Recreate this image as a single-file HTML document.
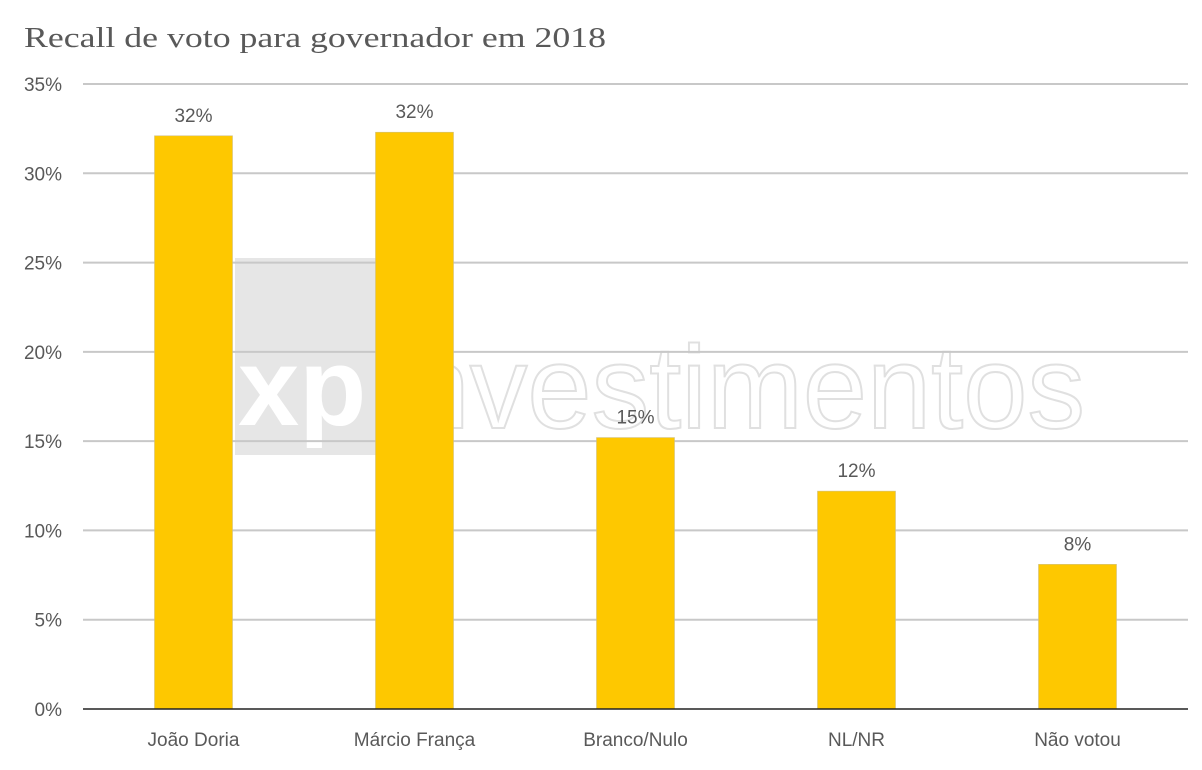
<!DOCTYPE html>
<html><head><meta charset="utf-8"><style>
body{margin:0;background:#fff;}
svg{display:block;font-family:"Liberation Sans",sans-serif;}
</style></head><body>
<svg id="chart" width="1202" height="770">
<text x="24" y="47" font-size="29" fill="#595959" font-family="Liberation Serif, serif" textLength="582" lengthAdjust="spacingAndGlyphs">Recall de voto para governador em 2018</text>
<g>
<rect x="235" y="258" width="143" height="197" fill="#e6e6e6"/>
<text x="238" y="425" font-size="110" font-weight="bold" fill="#fff">xp</text>
<text x="380" y="428" font-size="118" fill="none" stroke="#e0e0e0" stroke-width="2" textLength="705" lengthAdjust="spacingAndGlyphs">investimentos</text>
</g>
<g id="grid"></g><g id="bars"></g><g id="labels"></g>
</svg>
<script>
const categories=["João Doria","Márcio França","Branco/Nulo","NL/NR","Não votou"];
const values=[32.1,32.3,15.2,12.2,8.1];
const valueLabels=["32%","32%","15%","12%","8%"];
const ticks=[0,5,10,15,20,25,30,35];
const tickLabels=["0%","5%","10%","15%","20%","25%","30%","35%"];
const NS="http://www.w3.org/2000/svg";
const x0=83,x1=1188,y0=709,y1=84,ymax=35;
const y=v=>y0-(v/ymax)*(y0-y1);
const bw=(x1-x0)/categories.length;
const xc=i=>x0+bw*(i+0.5);
function mk(t,a,p){const e=document.createElementNS(NS,t);for(const k in a)e.setAttribute(k,a[k]);p.appendChild(e);return e;}
const grid=document.getElementById('grid'),bars=document.getElementById('bars'),labels=document.getElementById('labels');
ticks.forEach((t,i)=>{
 if(t>0){const l=mk('line',{x1:x0,x2:x1,y1:y(t),y2:y(t),stroke:'#c8c8c8','stroke-width':2},grid);
 
 }
 const tx=mk('text',{x:62,y:y(t)+7,'text-anchor':'end','font-size':19,fill:'#595959'},grid);
 tx.textContent=tickLabels[i];
 
 
});
categories.forEach((c,i)=>{
 const r=mk('rect',{x:xc(i)-39,y:y(values[i]),width:78,height:y0-y(values[i]),fill:'#fec800',stroke:'#d0c080','stroke-width':0.6},bars);
 
 
 const v=mk('text',{x:xc(i),y:y(values[i])-14,'text-anchor':'middle','font-size':19,fill:'#595959'},labels);
 v.textContent=valueLabels[i];
 
 
 const cl=mk('text',{x:xc(i),y:746,'text-anchor':'middle','font-size':19,fill:'#595959'},labels);
 cl.textContent=c;
 
 
});
const ax=mk('line',{x1:x0,x2:x1,y1:y0,y2:y0,stroke:'#222','stroke-width':1.5},labels);


</script>
</body></html>
